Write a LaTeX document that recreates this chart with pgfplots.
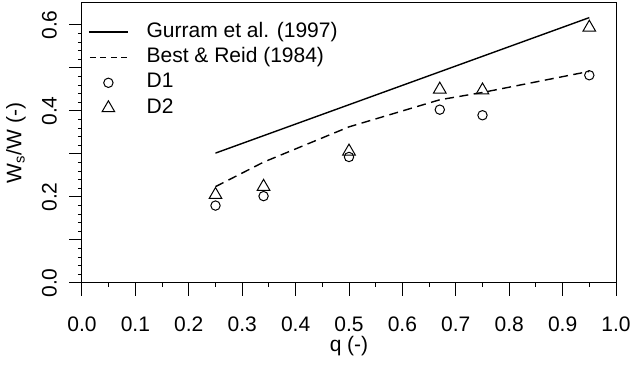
\documentclass[border=0pt]{standalone}
\usepackage{fontspec}
\setmainfont{Liberation Sans}
\usepackage{pgfplots}
\pgfplotsset{compat=1.18}

% Legend samples: a short line, or a single mark, then room before the text
\pgfplotsset{
  lineleg/.style={legend image code/.code={\draw[##1] (0pt,5pt) -- (39pt,5pt); \path (57pt,0pt);}},
  dashleg/.style={legend image code/.code={\draw[##1, dash pattern=on 6pt off 4.5pt] (1pt,5pt) -- (39pt,5pt); \path (57pt,0pt);}},
  markleg/.style={legend image code/.code={\draw[##1] plot coordinates {(19.5pt,5pt)}; \path (57pt,0pt);}},
}

% Separation width ratio vs discharge ratio
\pgfplotstableread{
q     ws
0.25  0.302
0.95  0.617
}\gurram
\pgfplotstableread{
q     ws
0.25  0.224
0.34  0.281
0.50  0.363
0.67  0.426
0.75  0.443
0.95  0.492
}\bestreid
\pgfplotstableread{
q     ws
0.25  0.180
0.34  0.202
0.50  0.293
0.67  0.403
0.75  0.390
0.95  0.483
}\dA
\pgfplotstableread{
q     ws
0.25  0.205
0.34  0.224
0.50  0.306
0.67  0.450
0.75  0.448
0.95  0.594
}\dB

\begin{document}
\fontsize{21pt}{25pt}\selectfont
\begin{tikzpicture}
\begin{axis}[
  scale only axis,
  width=534pt, height=280pt,
  xmin=0, xmax=1, ymin=0, ymax=0.651,
  axis line style={line width=1pt},
  every tick/.style={black, line width=1pt},
  tick align=outside,
  xtick pos=bottom, ytick pos=left,
  xtick={0,0.1,...,1.0},
  xticklabels={0.0,0.1,0.2,0.3,0.4,0.5,0.6,0.7,0.8,0.9,1.0},
  ytick={0,0.1,...,0.6},
  yticklabels={0.0,,0.2,,0.4,,0.6},
  minor x tick num=1,
  minor y tick num=4,
  major tick length=13pt,
  minor tick length=4pt,
  ticklabel style={font=\fontsize{21pt}{25pt}\selectfont},
  xticklabel style={anchor=north, yshift=-14pt},
  yticklabel style={rotate=90, anchor=south, yshift=5pt},
  xlabel={q (-)},
  ylabel={W\textsubscript{s}/W (-)},
  label style={font=\fontsize{21pt}{25pt}\selectfont},
  xlabel style={at={(axis description cs:0.5,0)}, anchor=center, yshift=-63pt},
  ylabel style={at={(axis description cs:0,0.5)}, anchor=center, yshift=66pt},
  legend style={at={(rel axis cs:0,1)}, anchor=north west, xshift=6pt, yshift=-19pt,
    draw=none, fill=none, inner sep=0pt,
    font=\fontsize{21pt}{25pt}\selectfont,
    row sep=5.3pt, column sep=0pt,
    nodes={inner sep=0pt, text height=15pt, text depth=5pt, anchor=base west}},
  legend cell align=left,
]
\addplot[black, line width=1.4pt, mark=none, lineleg]
  table[x=q, y=ws] {\gurram};
\addlegendentry{Gurram et al. (1997)}
\addplot[black, line width=1.4pt, mark=none, dash pattern=on 9pt off 5.5pt, dashleg]
  table[x=q, y=ws] {\bestreid};
\addlegendentry{Best \& Reid (1984)}
\addplot[black, only marks, mark=o, mark size=4.7pt, mark options={line width=1pt}, markleg]
  table[x=q, y=ws] {\dA};
\addlegendentry{D1}
\addplot[black, only marks, mark=triangle, mark size=7.3pt, mark options={line width=1pt}, markleg]
  table[x=q, y=ws] {\dB};
\addlegendentry{D2}
\coordinate (o) at (rel axis cs:0,0);
\end{axis}
\pgfresetboundingbox
\path (o) ++(-82pt,-83pt) rectangle ++(632pt,366pt);
\end{tikzpicture}
\end{document}
